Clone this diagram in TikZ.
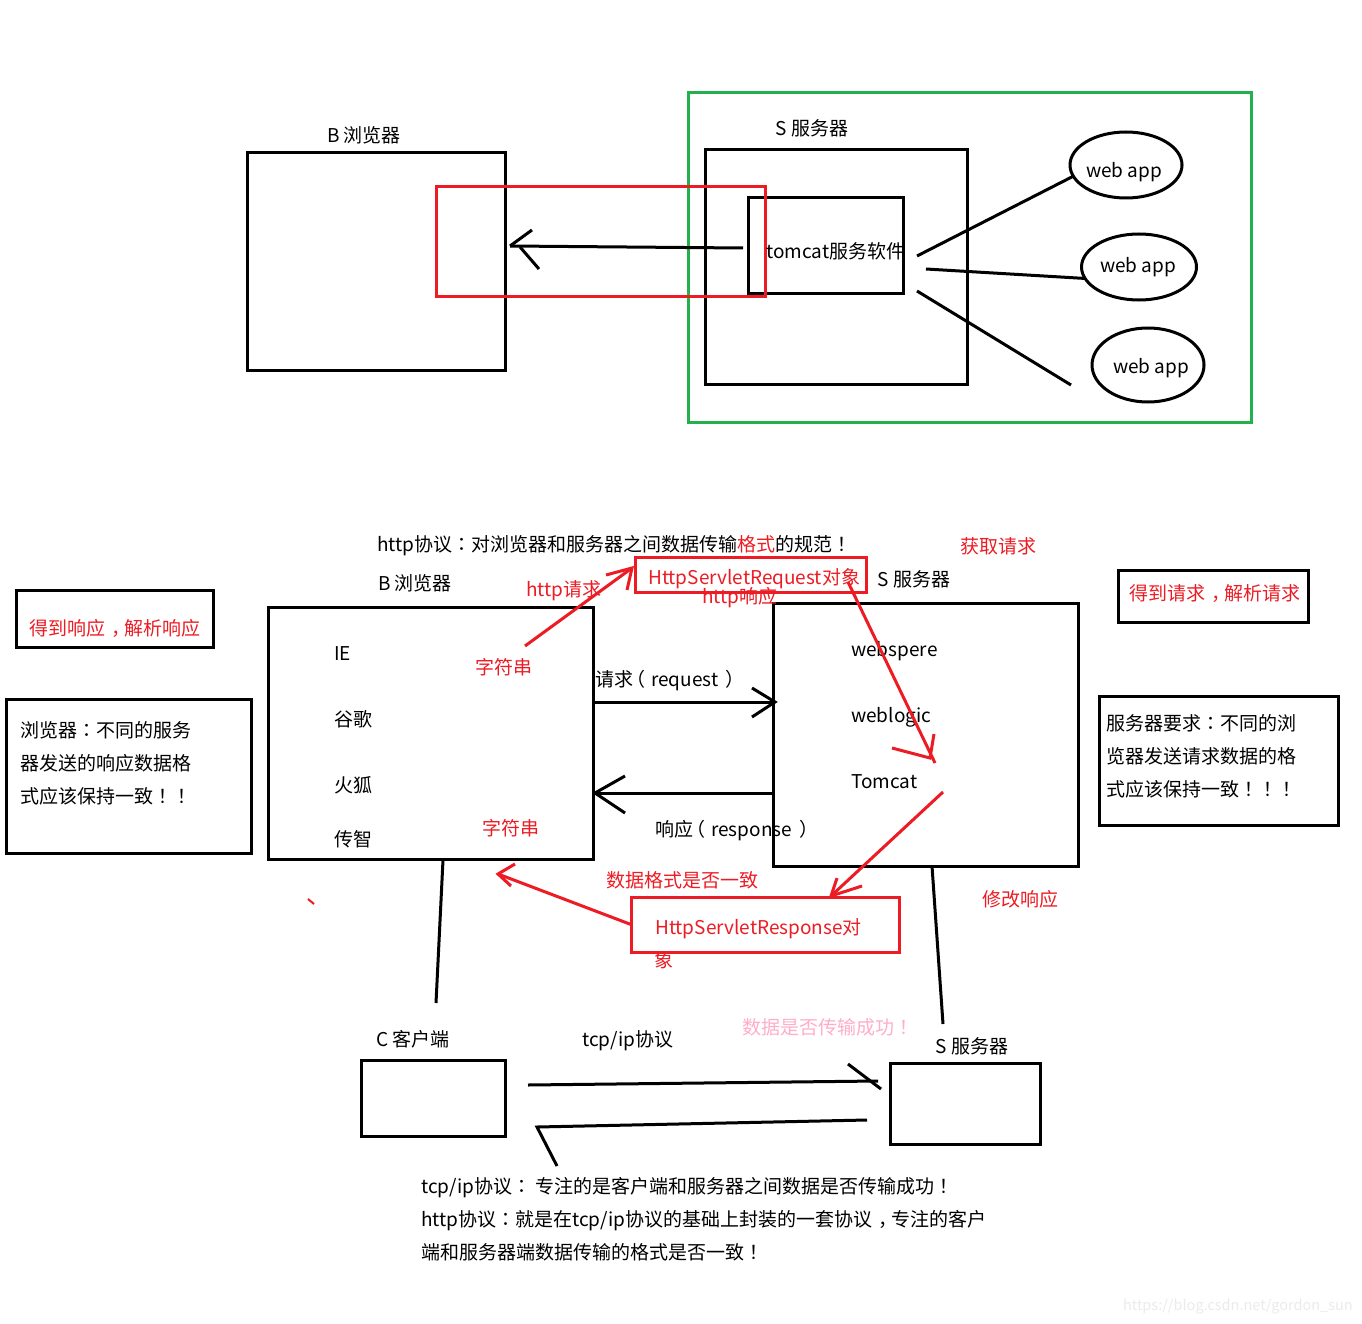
\documentclass[tikz,border=0pt]{standalone}
\usepackage{fontspec}
\setmainfont{Noto Sans CJK SC}
\newfontfamily\punctfont{Noto Sans CJK TC}
\newcommand{\pct}[1]{{\punctfont #1}}
\newcommand{\commamark}{\kern6pt ，\kern-6pt}
\newcommand{\openparen}{\kern-7pt （\kern6pt}
\newcommand{\closeparen}{\kern7pt ）}
\definecolor{paintred}{HTML}{ED1C24}
\definecolor{paintgreen}{HTML}{22B14C}
\definecolor{paintpink}{HTML}{FFAEC9}
\tikzset{
    box/.style = {draw, line width = 3pt, inner sep = 0pt, outer sep = 0pt, anchor = north west},
    redbox/.style = {box, draw = paintred},
    greenbox/.style = {box, draw = paintgreen},
    webapp/.style = {draw, ellipse, line width = 3pt, inner sep = 0pt, outer sep = 0pt},
    txt/.style = {inner sep = 0pt, font = \fontsize{19}{33}\selectfont, align = left},
    lefttxt/.style = {txt, anchor = west},
    redtxt/.style = {txt, text = paintred},
    blackline/.style = {line width = 3pt},
    redline/.style = {line width = 3pt, draw = paintred}
}
\usetikzlibrary{shapes.geometric}
\begin{document}
\begin{tikzpicture}[x=1pt,y=-1pt]
    \useasboundingbox [fill = white] (0,0) rectangle (1362,1324);
    % top picture
    \node [box, minimum width = 258, minimum height = 217] (browsertop) at (247,153) {};
    \node [box, minimum width = 262, minimum height = 234] (servertop) at (705,150) {};
    \node [box, minimum width = 155, minimum height = 95] (tomcatbox) at (748,198) {};
    \node [greenbox, minimum width = 563, minimum height = 329] (greenframe) at (688,93) {};
    \node [redbox, minimum width = 329, minimum height = 109] (redframe) at (436,187) {};
    \node [txt] (browsertoplabel) at (364,135) {B 浏览器};
    \node [txt] (servertoplabel) at (812,128) {S 服务器};
    \node [txt] (tomcatlabel) at (836,251) {tomcat服务软件};
    \node [webapp, minimum width = 112, minimum height = 66] (webappa) at (1126,165) {};
    \node [webapp, minimum width = 115, minimum height = 66] (webappb) at (1139,267) {};
    \node [webapp, minimum width = 112, minimum height = 74] (webappc) at (1148,365) {};
    \node [txt] (webappatext) at (1124,172) {web app};
    \node [txt] (webappbtext) at (1138,267) {web app};
    \node [txt] (webappctext) at (1151,368) {web app};
    \coordinate (tomcatout) at (743,248);
    \coordinate (tomcattip) at (510,246);
    \coordinate (tomcatbarba) at (532,230);
    \coordinate (tomcatbarbb) at (539,269);
    \coordinate (tomcatbarbc) at (520,247);
    \draw [blackline] (tomcatout) -- (tomcattip);
    \draw [blackline] (tomcatbarba) -- (tomcattip);
    \draw [blackline] (tomcatbarbc) -- (tomcatbarbb);
    \coordinate (linea) at (917,256);
    \coordinate (lineb) at (926,269);
    \coordinate (linec) at (917,291);
    \coordinate (linecend) at (1071,385);
    \draw [blackline] (linea) -- (webappa.192);
    \draw [blackline] (lineb) -- (webappb.192);
    \draw [blackline] (linec) -- (linecend);
    % middle picture
    \node [lefttxt] (titletext) at (377,546) {http协议\pct{：}对浏览器和服务器之间数据传输\textcolor{paintred}{格式}的规范\pct{！}};
    \node [redtxt] (gettext) at (998,546) {获取请求};
    \node [box, minimum width = 325, minimum height = 252] (browsermid) at (268,607) {};
    \node [box, minimum width = 305, minimum height = 263] (servermid) at (773,603) {};
    \node [txt] (browsermidlabel) at (415,583) {B 浏览器};
    \node [txt] (servermidlabel) at (914,579) {S 服务器};
    \node [lefttxt] (ie) at (334,654) {IE};
    \node [lefttxt] (chrome) at (334,719) {谷歌};
    \node [lefttxt] (firefox) at (334,785) {火狐};
    \node [lefttxt] (chuanzhi) at (334,839) {传智};
    \node [lefttxt] (webspere) at (851,651) {webspere};
    \node [lefttxt] (weblogic) at (851,717) {weblogic};
    \node [lefttxt] (tomcatmid) at (851,782) {Tomcat};
    \node [lefttxt] (requesttext) at (595,681) {请求\openparen request\closeparen};
    \node [lefttxt] (responsetext) at (655,831) {响应\openparen response\closeparen};
    \node [redbox, minimum width = 231, minimum height = 35] (requestbox) at (635,557) {};
    \node [redbox, minimum width = 268, minimum height = 55] (responsebox) at (631,897) {};
    \node [redtxt, anchor = west] (requestobj) at (648,579) {HttpServletRequest对象};
    \node [redtxt, anchor = west] (responseobj) at (655,929) {HttpServletResponse对};
    \node [redtxt, anchor = west] (responseobjb) at (654,960) {象};
    \node [redtxt] (httpreq) at (564,591) {http请求};
    \node [redtxt] (httpresp) at (740,598) {http响应};
    \node [redtxt] (stringa) at (504,667) {字符串};
    \node [redtxt] (stringb) at (511,828) {字符串};
    \node [redtxt] (formattext) at (682,880) {数据格式是否一致};
    \node [redtxt] (modifytext) at (1020,899) {修改响应};
    % side boxes
    \node [box, minimum width = 197, minimum height = 57] (gotresp) at (16,590) {};
    \node [redtxt] (gotresptext) at (115,628) {得到响应\commamark 解析响应};
    \node [box, minimum width = 190, minimum height = 52] (gotreq) at (1118,570) {};
    \node [redtxt] (gotreqtext) at (1215,594) {得到请求\commamark 解析请求};
    \node [box, minimum width = 245, minimum height = 154] (browsernote) at (6,699) {};
    \node [lefttxt] (browsernotetext) at (20,763) {浏览器\pct{：}不同的服务\\器发送的响应数据格\\式应该保持一致\pct{！！}};
    \node [box, minimum width = 239, minimum height = 129] (servernote) at (1099,696) {};
    \node [lefttxt] (servernotetext) at (1106,756) {服务器要求\pct{：}不同的浏\\览器发送请求数据的格\\式应该保持一致\pct{！！！}};
    % connectors of the middle picture
    \coordinate (reqstart) at (592,702);
    \coordinate (reqtip) at (775,702);
    \coordinate (reqbarba) at (752,688);
    \coordinate (reqbarbb) at (752,717);
    \draw [blackline] (reqstart) -- (reqtip);
    \draw [blackline] (reqbarba) -- (reqtip) -- (reqbarbb);
    \coordinate (respstart) at (775,793);
    \coordinate (resptip) at (595,793);
    \coordinate (respbarba) at (625,776);
    \coordinate (respbarbb) at (625,813);
    \draw [blackline] (respstart) -- (resptip);
    \draw [blackline] (respbarba) -- (resptip) -- (respbarbb);
    \coordinate (redastart) at (525,646);
    \coordinate (redatip) at (632,568);
    \coordinate (redabarba) at (606,575);
    \coordinate (redabarbb) at (627,590);
    \draw [redline] (redastart) -- (redatip);
    \draw [redline] (redabarba) -- (redatip) -- (redabarbb);
    \coordinate (redbstart) at (848,582);
    \coordinate (redbend) at (935,763);
    \coordinate (redbtip) at (930,758);
    \coordinate (redbbarba) at (892,748);
    \coordinate (redbbarbb) at (934,734);
    \draw [redline] (redbstart) -- (redbend);
    \draw [redline] (redbbarba) -- (redbtip) -- (redbbarbb);
    \coordinate (redcstart) at (943,792);
    \coordinate (redctip) at (831,896);
    \coordinate (redcbarba) at (837,878);
    \coordinate (redcbarbb) at (862,886);
    \draw [redline] (redcstart) -- (redctip);
    \draw [redline] (redcbarba) -- (redctip) -- (redcbarbb);
    \coordinate (reddtip) at (498,874);
    \coordinate (reddbarba) at (515,864);
    \coordinate (reddbarbb) at (511,886);
    \draw [redline] (responsebox.west) -- (reddtip);
    \draw [redline] (reddbarba) -- (reddtip) -- (reddbarbb);
    \coordinate (ticka) at (308,899);
    \coordinate (tickb) at (314,904);
    \draw [redline, line width = 2pt] (ticka) -- (tickb);
    % bottom picture
    \node [box, minimum width = 144, minimum height = 76] (client) at (361,1060) {};
    \node [box, minimum width = 150, minimum height = 81] (serverlow) at (890,1063) {};
    \node [txt] (clientlabel) at (413,1039) {C 客户端};
    \node [txt] (serverlowlabel) at (972,1046) {S 服务器};
    \node [txt] (tcptext) at (628,1041) {tcp/ip协议};
    \node [lefttxt, text = paintpink] (successtext) at (742,1027) {数据是否传输成功\pct{！}};
    \coordinate (browserdown) at (443,860);
    \coordinate (clientup) at (436,1003);
    \coordinate (serverdown) at (932,866);
    \coordinate (serverlowup) at (943,1024);
    \draw [blackline] (browserdown) -- (clientup);
    \draw [blackline] (serverdown) -- (serverlowup);
    \coordinate (tcpastart) at (528,1085);
    \coordinate (tcpatip) at (878,1081);
    \coordinate (tcpabarba) at (848,1064);
    \coordinate (tcpabarbb) at (881,1089);
    \draw [blackline] (tcpastart) -- (tcpatip);
    \draw [blackline] (tcpabarba) -- (tcpabarbb);
    \coordinate (tcpbstart) at (867,1120);
    \coordinate (tcpbtip) at (537,1127);
    \coordinate (tcpbbarb) at (557,1166);
    \draw [blackline] (tcpbstart) -- (tcpbtip) -- (tcpbbarb);
    \node [lefttxt] (bottomtext) at (421,1219) {tcp/ip协议\pct{：} 专注的是客户端和服务器之间数据是否传输成功\pct{！}\\http协议\pct{：}就是在tcp/ip协议的基础上封装的一套协议\commamark 专注的客户\\端和服务器端数据传输的格式是否一致\pct{！}};
    \node [inner sep = 0pt, anchor = east, text = black!8, font = \fontsize{14.5}{16}\selectfont] (watermark) at (1353,1307) {https://blog.csdn.net/gordon\_sun};
\end{tikzpicture}
\end{document}
